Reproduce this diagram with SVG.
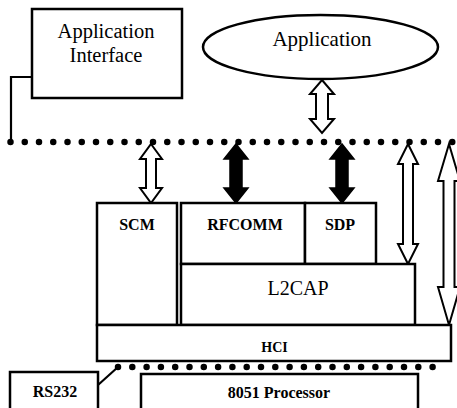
<svg xmlns="http://www.w3.org/2000/svg" width="457" height="408" viewBox="0 0 457 408" font-family="'Liberation Serif', 'DejaVu Serif', serif">
<style>
  .box { fill: #fff; stroke: #000; stroke-width: 2.5; }
  .ha { fill: #fff; stroke: #000; stroke-width: 2; stroke-linejoin: miter; }
  .fa { fill: #000; stroke: #000; stroke-width: 1.5; }
  .ln { fill: none; stroke: #000; stroke-width: 2.2; }
  .dots { fill: none; stroke: #000; stroke-width: 6.5; stroke-linecap: round; }
  text { font-family: 'Liberation Serif', 'DejaVu Serif', serif; fill: #000; text-anchor: middle; }
  .big { font-size: 20.5px; }
  .lbl { font-size: 16px; font-weight: bold; }
</style>
<rect width="457" height="408" fill="#fff"/>
<g id="connectors">
  <polyline class="ln" points="32,77 11,77 11,142"/>
  <line class="dots" x1="10.5" y1="142" x2="453" y2="142" stroke-dasharray="0 14.25"/>
  <line class="dots" x1="118" y1="367" x2="433" y2="367" stroke-dasharray="0 14.3"/>
  <line class="ln" x1="98" y1="385" x2="118" y2="367"/>
  <polygon class="ha" points="322,80 334,94 328,94 328,119 334,119 322,133 310,119 316,119 316,94 310,94"/>
  <polygon class="ha" points="151,144 162,159 156,159 156,188 162,188 151,203 140,188 146,188 146,159 140,159"/>
  <polygon class="fa" points="236,144 248,159 242,159 242,188 248,188 236,203 224,188 230,188 230,159 224,159"/>
  <polygon class="fa" points="342,144 354,159 348,159 348,188 354,188 342,203 330,188 336,188 336,159 330,159"/>
  <polygon class="ha" points="408,144 418,164 413,164 413,244 418,244 408,264 398,244 403,244 403,164 398,164"/>
  <polygon class="ha" points="449,144 460,181 454.5,181 454.5,287 460,287 449,325 438,287 443.5,287 443.5,181 438,181"/>
</g>
<g id="app-interface">
  <rect class="box" x="32" y="9" width="150" height="89"/>
  <text class="big" x="106" y="38">Application</text>
  <text class="big" x="106" y="62">Interface</text>
</g>
<g id="application">
  <ellipse class="box" cx="320.5" cy="47" rx="117.5" ry="32"/>
  <text class="big" x="322" y="46" style="font-size:21px">Application</text>
</g>
<g id="scm">
  <rect class="box" x="97" y="203" width="80" height="122"/>
  <text class="lbl" x="137" y="230">SCM</text>
</g>
<g id="rfcomm">
  <rect class="box" x="181" y="203" width="124" height="61"/>
  <text class="lbl" x="245" y="230">RFCOMM</text>
</g>
<g id="sdp">
  <rect class="box" x="305" y="203" width="71" height="61"/>
  <text class="lbl" x="340" y="230">SDP</text>
</g>
<g id="l2cap">
  <rect class="box" x="181" y="264" width="234" height="61"/>
  <text x="298" y="295" style="font-size:20px">L2CAP</text>
</g>
<g id="hci">
  <rect class="box" x="97" y="325" width="354" height="36"/>
  <text class="lbl" x="274.5" y="352" style="font-size:14px">HCI</text>
</g>
<g id="processor">
  <rect class="box" x="141" y="374" width="277" height="40"/>
  <text class="lbl" x="279" y="398">8051 Processor</text>
</g>
<g id="rs232">
  <rect class="box" x="10" y="372" width="88" height="42"/>
  <text class="lbl" x="55" y="397">RS232</text>
</g>
</svg>
